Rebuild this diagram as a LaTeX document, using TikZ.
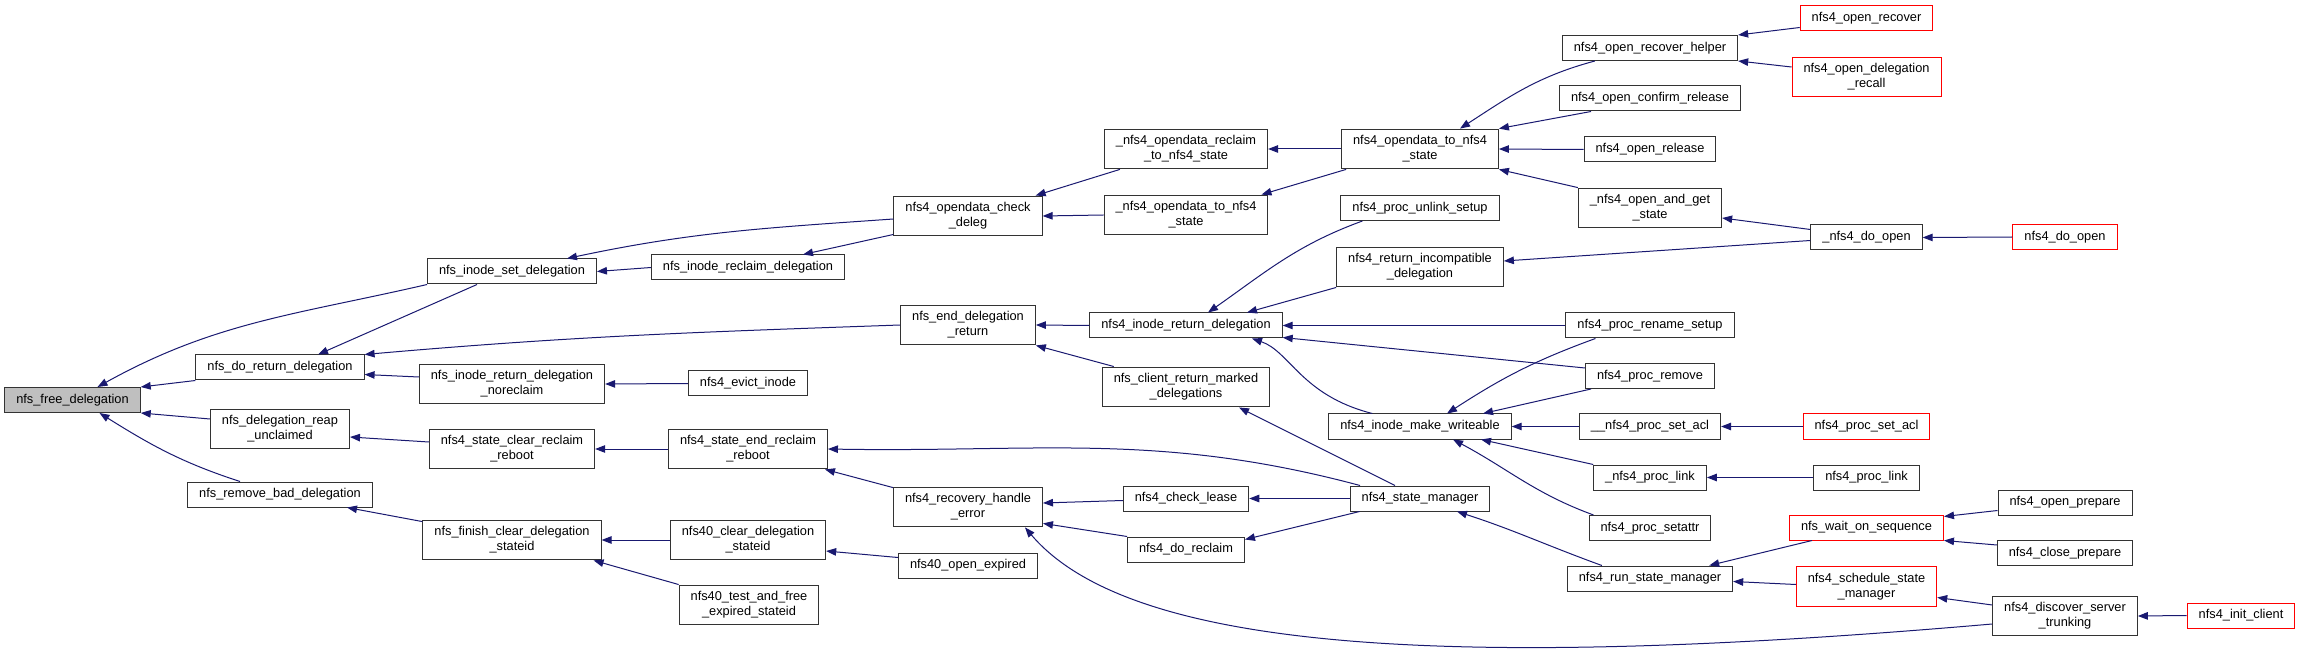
\documentclass[tikz,border=0pt]{standalone}
\usepackage{fontspec}
\setmainfont{Liberation Sans}
\usetikzlibrary{arrows.meta}
\definecolor{edgeblue}{HTML}{191970}
\begin{document}
\begin{tikzpicture}[x=1pt,y=1pt,font=\fontsize{12.8}{15}\selectfont,align=center,
  fn/.style={draw=black!80,line width=1pt,fill=white,inner xsep=11.5pt,inner ysep=6.5pt,minimum height=25pt},
  root/.style={fn,fill=black!25},
  cut/.style={fn,draw=red},
  call/.style={edgeblue,line width=1pt,{Triangle[length=10pt,width=7.5pt]}-}]
\useasboundingbox (0,0) rectangle (2301,651);
\node[root] (fdel) at (72.5,251) {nfs\_free\_delegation};
\node[fn] (doret) at (280,283.5) {nfs\_do\_return\_delegation};
\node[fn] (reap) at (280,222) {nfs\_delegation\_reap\\\_unclaimed};
\node[fn] (rmbad) at (280,156.5) {nfs\_remove\_bad\_delegation};
\node[fn] (setdel) at (512,379.5) {nfs\_inode\_set\_delegation};
\node[fn] (noreclaim) at (512,267) {nfs\_inode\_return\_delegation\\\_noreclaim};
\node[fn] (clrreboot) at (512,202) {nfs4\_state\_clear\_reclaim\\\_reboot};
\node[fn] (finclr) at (512,111) {nfs\_finish\_clear\_delegation\\\_stateid};
\node[fn] (reclaimdel) at (748,383.5) {nfs\_inode\_reclaim\_delegation};
\node[fn] (evict) at (748,267.5) {nfs4\_evict\_inode};
\node[fn] (endreboot) at (748,202) {nfs4\_state\_end\_reclaim\\\_reboot};
\node[fn] (clr40) at (748,111) {nfs40\_clear\_delegation\\\_stateid};
\node[fn] (test40) at (749,46) {nfs40\_test\_and\_free\\\_expired\_stateid};
\node[fn] (checkdeleg) at (968,435) {nfs4\_opendata\_check\\\_deleg};
\node[fn] (enddel) at (968,326) {nfs\_end\_delegation\\\_return};
\node[fn] (recov) at (968,144) {nfs4\_recovery\_handle\\\_error};
\node[fn] (open40) at (968,85.5) {nfs40\_open\_expired};
\node[fn] (oreclaim) at (1186,502) {\_nfs4\_opendata\_reclaim\\\_to\_nfs4\_state};
\node[fn] (otostate) at (1186,436) {\_nfs4\_opendata\_to\_nfs4\\\_state};
\node[fn] (inoderet) at (1186,325.5) {nfs4\_inode\_return\_delegation};
\node[fn] (retmarked) at (1186,264) {nfs\_client\_return\_marked\\\_delegations};
\node[fn] (chklease) at (1186,152.5) {nfs4\_check\_lease};
\node[fn] (doreclaim) at (1186,101.5) {nfs4\_do\_reclaim};
\node[fn] (odtostate) at (1420,502) {nfs4\_opendata\_to\_nfs4\\\_state};
\node[fn] (unlink) at (1420,443) {nfs4\_proc\_unlink\_setup};
\node[fn] (retincomp) at (1420,384) {nfs4\_return\_incompatible\\\_delegation};
\node[fn] (mkwrite) at (1420,224.5) {nfs4\_inode\_make\_writeable};
\node[fn] (stmgr) at (1420,152.5) {nfs4\_state\_manager};
\node[fn] (rechelper) at (1650,603) {nfs4\_open\_recover\_helper};
\node[fn] (confrel) at (1650,552.5) {nfs4\_open\_confirm\_release};
\node[fn] (orel) at (1650,501.5) {nfs4\_open\_release};
\node[fn] (opget) at (1650,443) {\_nfs4\_open\_and\_get\\\_state};
\node[fn] (rename) at (1650,325.5) {nfs4\_proc\_rename\_setup};
\node[fn] (remove) at (1650,275) {nfs4\_proc\_remove};
\node[fn] (psetacl) at (1650,224.5) {\_\_nfs4\_proc\_set\_acl};
\node[fn] (plinkint) at (1650,173.5) {\_nfs4\_proc\_link};
\node[fn] (setattr) at (1650,123) {nfs4\_proc\_setattr};
\node[fn] (runmgr) at (1650,72.5) {nfs4\_run\_state\_manager};
\node[cut] (orecover) at (1866.5,632.5) {nfs4\_open\_recover};
\node[cut] (delrecall) at (1866.5,574) {nfs4\_open\_delegation\\\_recall};
\node[fn] (dopenint) at (1866.5,413.5) {\_nfs4\_do\_open};
\node[cut] (setacl) at (1866.5,224.5) {nfs4\_proc\_set\_acl};
\node[fn] (plink) at (1866.5,173.5) {nfs4\_proc\_link};
\node[cut] (waitseq) at (1866.5,123.5) {nfs\_wait\_on\_sequence};
\node[cut] (schedmgr) at (1866.5,64.5) {nfs4\_schedule\_state\\\_manager};
\node[cut] (doopen) at (2065,414) {nfs4\_do\_open};
\node[fn] (oprep) at (2065,148.5) {nfs4\_open\_prepare};
\node[fn] (cprep) at (2065,98) {nfs4\_close\_prepare};
\node[fn] (discover) at (2065,35) {nfs4\_discover\_server\\\_trunking};
\node[cut] (initcl) at (2241,35.5) {nfs4\_init\_client};
\draw[call] ([xshift=25pt]fdel.north) to[out=29,in=193] (setdel.south west);
\draw[call] (fdel.north east) -- (doret.south west);
\draw[call] (fdel.south east) -- ([yshift=10pt]reap.west);
\draw[call] ([xshift=27pt]fdel.south) to[out=-32,in=162] ([xshift=-40pt]rmbad.north);
\draw[call] ([xshift=38pt]doret.north) -- ([xshift=-35pt]setdel.south);
\draw[call] (doret.north east) to[out=5,in=182] (enddel.west);
\draw[call] ([yshift=-7pt]doret.east) -- ([yshift=7pt]noreclaim.west);
\draw[call] ([yshift=-8pt]reap.east) -- ([yshift=7pt]clrreboot.west);
\draw[call] ([xshift=67pt]rmbad.south) -- ([yshift=-2pt]finclr.north west);
\draw[call] ([xshift=55pt]setdel.north) to[out=12,in=184] ([yshift=-3pt]checkdeleg.west);
\draw[call] (setdel.east) -- (reclaimdel.west);
\draw[call] ([xshift=55pt]reclaimdel.north) -- ([yshift=2pt]checkdeleg.south west);
\draw[call] (noreclaim.east) -- (evict.west);
\draw[call] (clrreboot.east) -- (endreboot.west);
\draw[call] (endreboot.east) to[out=-1,in=165] ([xshift=-60pt]stmgr.north);
\draw[call] ([xshift=-3pt]endreboot.south east) -- ([yshift=-1pt]recov.north west);
\draw[call] (finclr.east) -- (clr40.west);
\draw[call] ([xshift=-8pt]finclr.south east) -- (test40.north west);
\draw[call] ([yshift=-11pt]clr40.east) -- ([yshift=8pt]open40.west);
\draw[call] ([xshift=-7pt]checkdeleg.north east) -- ([xshift=16pt]oreclaim.south west);
\draw[call] (checkdeleg.east) -- (otostate.west);
\draw[call] (oreclaim.east) -- (odtostate.west);
\draw[call] ([xshift=-7pt]otostate.north east) -- ([xshift=5pt]odtostate.south west);
\draw[call] (enddel.east) -- (inoderet.west);
\draw[call] (enddel.south east) -- ([xshift=12pt]retmarked.north west);
\draw[call] ([xshift=22pt]inoderet.north) to[out=35,in=200] ([xshift=22pt]unlink.south west);
\draw[call] ([xshift=61pt]inoderet.north) -- (retincomp.south west);
\draw[call] (inoderet.east) -- (rename.west);
\draw[call] ([yshift=1pt]inoderet.south east) -- ([yshift=8pt]remove.west);
\draw[call] ([xshift=66pt]inoderet.south) .. controls +(38,-13) and +(-71,18) .. ([xshift=44pt]mkwrite.north west);
\draw[call] ([xshift=53pt]retmarked.south) -- ([xshift=-25pt]stmgr.north);
\draw[call] ([yshift=4pt]recov.east) -- ([yshift=-2pt]chklease.west);
\draw[call] ([yshift=4pt]recov.south east) -- (doreclaim.north west);
\draw[call] ([xshift=57pt]recov.south) .. controls (1130,0) and (1450,-20) .. ([yshift=-8pt]discover.west);
\draw[call] (chklease.east) -- (stmgr.west);
\draw[call] ([yshift=-3pt]doreclaim.north east) -- ([xshift=10pt]stmgr.south west);
\draw[call] ([xshift=40pt]odtostate.north) to[out=33,in=195] ([xshift=33pt]rechelper.south west);
\draw[call] (odtostate.north east) -- ([xshift=32pt]confrel.south west);
\draw[call] (odtostate.east) -- (orel.west);
\draw[call] (odtostate.south east) -- (opget.north west);
\draw[call] ([yshift=6pt]retincomp.east) -- ([yshift=-3pt]dopenint.west);
\draw[call] ([yshift=-10pt]opget.east) -- ([yshift=8pt]dopenint.west);
\draw[call] (dopenint.east) -- (doopen.west);
\draw[call] (rechelper.north east) -- ([yshift=-9pt]orecover.west);
\draw[call] (rechelper.south east) -- ([yshift=10pt]delrecall.west);
\draw[call] ([xshift=27pt]mkwrite.north) to[out=33,in=200] ([xshift=30pt]rename.south west);
\draw[call] ([xshift=63pt]mkwrite.north) -- ([xshift=6pt]remove.south west);
\draw[call] (mkwrite.east) -- (psetacl.west);
\draw[call] ([xshift=61pt]mkwrite.south) -- (plinkint.north west);
\draw[call] ([xshift=33pt]mkwrite.south) to[out=-28,in=160] ([xshift=5pt]setattr.north west);
\draw[call] (psetacl.east) -- (setacl.west);
\draw[call] (plinkint.east) -- (plink.west);
\draw[call] ([xshift=37pt]stmgr.south) to[out=-18,in=160] ([xshift=35pt]runmgr.north west);
\draw[call] ([xshift=-24pt]runmgr.north east) -- ([xshift=23pt]waitseq.south west);
\draw[call] ([yshift=-3pt]runmgr.east) -- ([yshift=2pt]schedmgr.west);
\draw[call] ([yshift=-2pt]waitseq.north east) -- ([yshift=-8pt]oprep.west);
\draw[call] (waitseq.south east) -- ([yshift=8pt]cprep.west);
\draw[call] ([yshift=-11pt]schedmgr.east) -- ([yshift=11pt]discover.west);
\draw[call] (discover.east) -- (initcl.west);
\end{tikzpicture}
\end{document}
